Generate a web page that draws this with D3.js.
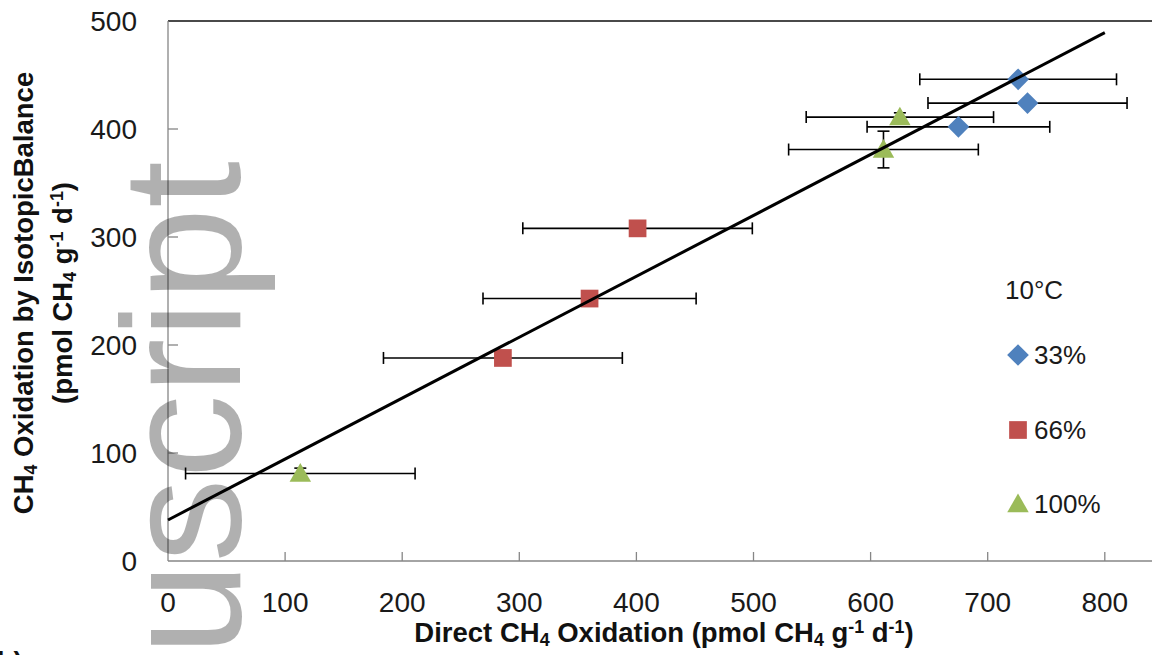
<!DOCTYPE html>
<html>
<head>
<meta charset="utf-8">
<script src="https://cdn.jsdelivr.net/npm/d3@7"></script>
<style>
  body { margin: 0; background: #fff; }
  svg text { font-family: "Liberation Sans", Arial, sans-serif; }
</style>
</head>
<body>
<div id="chart"></div>
<script>
// tick values
var xTicks = [0, 100, 200, 300, 400, 500, 600, 700, 800];
var yTicks = [0, 100, 200, 300, 400, 500];

// 33% series (diamonds)
var x33 = [726, 734, 675];
var y33 = [446, 424, 402];
var xErr33 = [84, 85, 78];

// 66% series (squares)
var x66 = [401, 360, 286];
var y66 = [308, 243, 188];
var xErr66 = [98, 91, 102];

// 100% series (triangles)
var x100 = [625, 611, 113];
var y100 = [411, 381, 81];
var xErr100 = [80, 81, 98];
var yErr100 = [4, 17, 5];

// linear fit drawn across the data
var fitX = [0, 800];
var fitSlope = 0.564;
var fitIntercept = 38;

var legendTitle = "10°C";
var seriesNames = ["33%", "66%", "100%"];

var width = 1152, height = 655;
var svg = d3.select("#chart").append("svg")
    .attr("width", width)
    .attr("height", height);

var x_scale = d3.scaleLinear().domain([0, 800]).range([168, 1104.8]);
var y_scale = d3.scaleLinear().domain([0, 500]).range([561, 21]);

// axes lines
svg.append("line") // top border
    .attr("x1", x_scale(0)).attr("x2", width)
    .attr("y1", y_scale(500)).attr("y2", y_scale(500))
    .attr("stroke", "#4a4a4a").attr("stroke-width", 2.2);
svg.append("line") // left axis
    .attr("x1", x_scale(0)).attr("x2", x_scale(0))
    .attr("y1", y_scale(500)).attr("y2", y_scale(0))
    .attr("stroke", "#868686").attr("stroke-width", 1.3);
svg.append("line") // bottom axis
    .attr("x1", x_scale(0)).attr("x2", width)
    .attr("y1", y_scale(0)).attr("y2", y_scale(0))
    .attr("stroke", "#868686").attr("stroke-width", 1.3);

// inner ticks
svg.selectAll(".xtick").data(xTicks.slice(1)).enter().append("line")
    .attr("x1", function(d) { return x_scale(d); })
    .attr("x2", function(d) { return x_scale(d); })
    .attr("y1", y_scale(0)).attr("y2", y_scale(0) - 9)
    .attr("stroke", "#868686").attr("stroke-width", 1.3);
svg.selectAll(".ytick").data(yTicks.slice(1, -1)).enter().append("line")
    .attr("x1", x_scale(0)).attr("x2", x_scale(0) + 10)
    .attr("y1", function(d) { return y_scale(d); })
    .attr("y2", function(d) { return y_scale(d); })
    .attr("stroke", "#868686").attr("stroke-width", 1.3);

// tick labels
svg.selectAll(".xlab").data(xTicks).enter().append("text")
    .attr("x", function(d) { return x_scale(d); })
    .attr("y", 612)
    .attr("text-anchor", "middle")
    .attr("font-size", "28px")
    .attr("fill", "#1a1a1a")
    .text(function(d) { return d; });
svg.selectAll(".ylab").data(yTicks).enter().append("text")
    .attr("x", 137)
    .attr("y", function(d) { return y_scale(d) + 10; })
    .attr("text-anchor", "end")
    .attr("font-size", "28px")
    .attr("fill", "#1a1a1a")
    .text(function(d) { return d; });

// helper for text with sub / superscripts
function richText(sel, parts) {
  parts.forEach(function(p) {
    var t = sel.append("tspan").text(p[0]);
    if (p[1] == "sub") t.attr("font-size", "65%").attr("baseline-shift", "-4px");
    if (p[1] == "sup") t.attr("font-size", "65%").attr("baseline-shift", "9px");
  });
}

// x axis title
var xt = svg.append("text")
    .attr("x", 664).attr("y", 642)
    .attr("text-anchor", "middle")
    .attr("font-size", "27.5px").attr("font-weight", "bold")
    .attr("fill", "#111");
richText(xt, [["Direct CH"], ["4", "sub"], [" Oxidation (pmol CH"], ["4", "sub"], [" g"], ["-1", "sup"], [" d"], ["-1", "sup"], [")"]]);

// y axis title, two lines
var yt1 = svg.append("text")
    .attr("transform", "translate(33,293) rotate(-90)")
    .attr("text-anchor", "middle")
    .attr("font-size", "27.5px").attr("font-weight", "bold")
    .attr("fill", "#111");
richText(yt1, [["CH"], ["4", "sub"], [" Oxidation by IsotopicBalance"]]);
var yt2 = svg.append("text")
    .attr("transform", "translate(72,293) rotate(-90)")
    .attr("text-anchor", "middle")
    .attr("font-size", "27.5px").attr("font-weight", "bold")
    .attr("fill", "#111");
richText(yt2, [["(pmol CH"], ["4", "sub"], [" g"], ["-1", "sup"], [" d"], ["-1", "sup"], [")"]]);

// bring series together for drawing
var series = [
  {name: seriesNames[0], x: x33, y: y33, xe: xErr33, ye: null, color: "#4F81BD", shape: d3.symbolDiamond2, size: 300},
  {name: seriesNames[1], x: x66, y: y66, xe: xErr66, ye: null, color: "#C0504D", shape: d3.symbolSquare2, size: 400},
  {name: seriesNames[2], x: x100, y: y100, xe: xErr100, ye: yErr100, color: "#9BBB59", shape: d3.symbolTriangle2, size: 330}
];

var cap = 6;
series.forEach(function(s) {
  var g = svg.append("g");
  s.x.forEach(function(xv, i) {
    var yv = s.y[i];
    var x0 = x_scale(xv - s.xe[i]), x1 = x_scale(xv + s.xe[i]), yy = y_scale(yv);
    g.append("line").attr("x1", x0).attr("x2", x1).attr("y1", yy).attr("y2", yy)
      .attr("stroke", "#000").attr("stroke-width", 1.6);
    [x0, x1].forEach(function(xx) {
      g.append("line").attr("x1", xx).attr("x2", xx).attr("y1", yy - cap).attr("y2", yy + cap)
        .attr("stroke", "#000").attr("stroke-width", 1.6);
    });
    if (s.ye) {
      var ya = y_scale(yv - s.ye[i]), yb = y_scale(yv + s.ye[i]), xx = x_scale(xv);
      g.append("line").attr("x1", xx).attr("x2", xx).attr("y1", ya).attr("y2", yb)
        .attr("stroke", "#000").attr("stroke-width", 1.6);
      [ya, yb].forEach(function(y2) {
        g.append("line").attr("x1", xx - cap).attr("x2", xx + cap).attr("y1", y2).attr("y2", y2)
          .attr("stroke", "#000").attr("stroke-width", 1.6);
      });
    }
  });
});

series.forEach(function(s) {
  svg.selectAll(null).data(s.x).enter().append("path")
    .attr("d", d3.symbol().type(s.shape).size(s.size))
    .attr("transform", function(d, i) {
      var dy = s.shape === d3.symbolTriangle2 ? 2 : 0;
      return "translate(" + x_scale(d) + "," + (y_scale(s.y[i]) + dy) + ")";
    })
    .attr("fill", s.color);
});

// fit line
var fitLine = d3.line()
    .x(function(d) { return x_scale(d); })
    .y(function(d) { return y_scale(fitIntercept + fitSlope * d); });
svg.append("path")
    .attr("d", fitLine(fitX))
    .attr("fill", "none")
    .attr("stroke", "#000")
    .attr("stroke-width", 3);

// legend
svg.append("text")
    .attr("x", 1005).attr("y", 299)
    .attr("font-size", "26px").attr("fill", "#1a1a1a")
    .text(legendTitle);
var legendY = [355, 430, 504];
series.forEach(function(s, i) {
  var dy = s.shape === d3.symbolTriangle2 ? 2 : 0;
  svg.append("path")
    .attr("d", d3.symbol().type(s.shape).size(s.size))
    .attr("transform", "translate(1018," + (legendY[i] + dy) + ")")
    .attr("fill", s.color);
  svg.append("text")
    .attr("x", 1034).attr("y", legendY[i] + 9)
    .attr("font-size", "26px").attr("fill", "#1a1a1a")
    .text(s.name);
});

// panel label, mostly cut off at the bottom edge
svg.append("text")
    .attr("x", -3).attr("y", 671)
    .attr("font-size", "27px").attr("font-weight", "bold")
    .attr("fill", "#111")
    .text("b)");

// watermark over the chart
svg.append("text")
    .attr("transform", "translate(240,161) rotate(-90)")
    .attr("text-anchor", "end")
    .attr("font-size", "168px")
    .attr("fill", "#000")
    .attr("fill-opacity", 0.31)
    .text("uscript");
</script>
</body>
</html>
